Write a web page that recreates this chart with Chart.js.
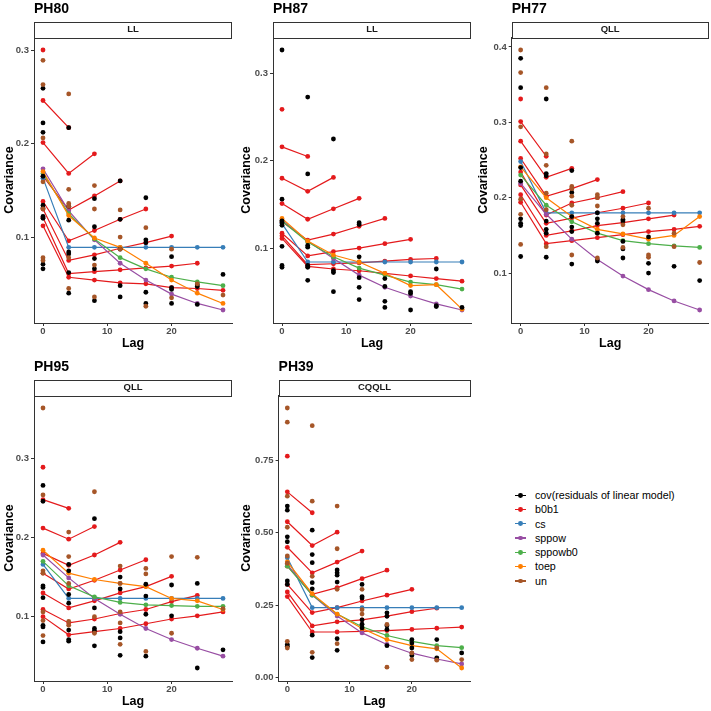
<!DOCTYPE html>
<html>
<head>
<meta charset="utf-8">
<script src="https://cdn.jsdelivr.net/npm/chart.js@4.4.0/dist/chart.umd.min.js"></script>
<style>
 body{margin:0;background:#fff;width:711px;height:711px;position:relative;overflow:hidden;font-family:"Liberation Sans",Arial,sans-serif}
 .panel{position:absolute;width:237px;height:353px}
 #leyenda{position:absolute;left:513px;top:488px;font-size:10.7px;color:#000}
 .item{height:14.3px;line-height:14.3px;position:relative;padding-left:22px;white-space:nowrap}
 .item .ln{position:absolute;left:2px;top:6.6px;width:11px;height:1.3px}
 .item .pt{position:absolute;left:5.1px;top:4.8px;width:4.8px;height:4.8px;border-radius:50%}
</style>
</head>
<body>
<div class="panel" style="left:0;top:0"><canvas id="c0" width="237" height="353"></canvas></div>
<div class="panel" style="left:237px;top:0"><canvas id="c1" width="237" height="353"></canvas></div>
<div class="panel" style="left:474px;top:0"><canvas id="c2" width="237" height="353"></canvas></div>
<div class="panel" style="left:0;top:358px"><canvas id="c3" width="237" height="353"></canvas></div>
<div class="panel" style="left:237px;top:358px"><canvas id="c4" width="237" height="353"></canvas></div>
<div id="leyenda"></div>
<script>
// lags (x) shared by all panels
var lags = [0, 4, 8, 12, 16, 20, 24, 28];

var panelNames = ["PH80", "PH87", "PH77", "PH95", "PH39"];
var stripLabels = ["LL", "LL", "QLL", "QLL", "CQQLL"];

var modelNames = ["cov(residuals of linear model)", "b0b1", "cs", "sppow", "sppowb0", "toep", "un"];
var modelColors = ["#000000", "#E41A1C", "#377EB8", "#984EA3", "#4DAF4A", "#FF7F00", "#A65628"];

// ---- PH80 ----
var residPH80 = [
  [0.259, 0.222, 0.212, 0.165, 0.134, 0.131, 0.122, 0.120, 0.071, 0.066],
  [0.217, 0.133, 0.118, 0.084, 0.082, 0.062, 0.040],
  [0.141, 0.111, 0.077, 0.066, 0.032],
  [0.160, 0.119, 0.087, 0.048, 0.036],
  [0.142, 0.097, 0.094, 0.041, 0.029],
  [0.079, 0.046, 0.044, 0.029],
  [0.049, 0.047, 0.028],
  [0.060]
];
var unPH80 = [
  [0.289, 0.263, 0.206, 0.159, 0.130, 0.078, 0.075],
  [0.253, 0.151, 0.136, 0.133, 0.078, 0.045],
  [0.155, 0.130, 0.070, 0.036],
  [0.129, 0.100, 0.087],
  [0.110, 0.026],
  [0.087, 0.035],
  [0.050],
  [0.038]
];
var b0b1PH80 = [
  [0.300],
  [0.246, 0.217],
  [0.201, 0.168, 0.189],
  [0.165, 0.129, 0.144, 0.160],
  [0.138, 0.096, 0.107, 0.119, 0.130],
  [0.130, 0.075, 0.081, 0.088, 0.094, 0.101],
  [0.121, 0.061, 0.063, 0.065, 0.067, 0.069, 0.072],
  [0.112, 0.057, 0.054, 0.051, 0.050, 0.046, 0.045, 0.043]
];
var csPH80 = [0.163, 0.089, 0.089, 0.089, 0.089, 0.089, 0.089, 0.089];
var sppowPH80 = [0.173, 0.128, 0.097, 0.072, 0.054, 0.039, 0.029, 0.022];
var sppowb0PH80 = [0.168, 0.125, 0.098, 0.078, 0.066, 0.057, 0.052, 0.048];
var toepPH80 = [0.170, 0.123, 0.099, 0.089, 0.072, 0.054, 0.040, 0.029];

// ---- PH87 ----
var residPH87 = [
  [0.327, 0.156, 0.131, 0.129, 0.126, 0.102, 0.080, 0.078],
  [0.273, 0.185, 0.103, 0.101, 0.080, 0.078, 0.063],
  [0.225, 0.074, 0.072, 0.050],
  [0.129, 0.127, 0.090, 0.066, 0.055, 0.041],
  [0.065, 0.056, 0.039, 0.032],
  [0.050, 0.048, 0.029],
  [0.076, 0.034, 0.033],
  [0.032]
];
var unPH87 = [[], [], [], [], [], [], [], []];
var b0b1PH87 = [
  [0.259],
  [0.216, 0.205],
  [0.180, 0.165, 0.181],
  [0.151, 0.133, 0.145, 0.157],
  [0.130, 0.109, 0.116, 0.125, 0.134],
  [0.117, 0.091, 0.096, 0.100, 0.105, 0.110],
  [0.114, 0.081, 0.082, 0.083, 0.085, 0.087, 0.088],
  [0.111, 0.079, 0.076, 0.074, 0.071, 0.068, 0.065, 0.062]
];
var csPH87 = [0.128, 0.084, 0.084, 0.084, 0.084, 0.084, 0.084, 0.084];
var sppowPH87 = [0.132, 0.108, 0.088, 0.069, 0.055, 0.045, 0.036, 0.029];
var sppowb0PH87 = [0.131, 0.107, 0.090, 0.077, 0.069, 0.061, 0.058, 0.053];
var toepPH87 = [0.134, 0.108, 0.092, 0.084, 0.071, 0.057, 0.058, 0.030];

// ---- PH77 ----
var residPH77 = [
  [0.385, 0.346, 0.240, 0.222, 0.172, 0.166, 0.163, 0.122],
  [0.331, 0.232, 0.229, 0.169, 0.158, 0.153, 0.121],
  [0.236, 0.207, 0.175, 0.161, 0.155, 0.112],
  [0.180, 0.172, 0.166, 0.153, 0.116],
  [0.171, 0.169, 0.142, 0.132, 0.120],
  [0.148, 0.113, 0.100],
  [0.109],
  [0.090]
];
var unPH77 = [
  [0.396, 0.366, 0.294, 0.198, 0.178, 0.138],
  [0.346, 0.258, 0.243, 0.206, 0.184, 0.135],
  [0.275, 0.215, 0.212, 0.202, 0.190, 0.124],
  [0.204, 0.200, 0.189, 0.120],
  [0.175, 0.164, 0.134],
  [0.186, 0.124, 0.121],
  [0.153, 0.135],
  [0.114]
];
var b0b1PH77 = [
  [0.331],
  [0.301, 0.255],
  [0.275, 0.227, 0.239],
  [0.252, 0.202, 0.212, 0.224],
  [0.234, 0.177, 0.193, 0.200, 0.208],
  [0.217, 0.166, 0.173, 0.180, 0.186, 0.193],
  [0.204, 0.150, 0.156, 0.163, 0.167, 0.172, 0.177],
  [0.194, 0.139, 0.143, 0.147, 0.151, 0.155, 0.158, 0.162]
];
var csPH77 = [0.248, 0.180, 0.180, 0.180, 0.180, 0.180, 0.180, 0.180];
var sppowPH77 = [0.219, 0.178, 0.145, 0.118, 0.096, 0.078, 0.063, 0.051];
var sppowb0PH77 = [0.230, 0.190, 0.168, 0.153, 0.143, 0.139, 0.136, 0.134];
var toepPH77 = [0.241, 0.200, 0.175, 0.158, 0.152, 0.145, 0.150, 0.175];

// ---- PH95 ----
var residPH95 = [
  [0.266, 0.246, 0.139, 0.137, 0.124, 0.089, 0.087, 0.068],
  [0.166, 0.158, 0.128, 0.117, 0.083, 0.071, 0.069],
  [0.224, 0.111, 0.085, 0.082, 0.063],
  [0.150, 0.135, 0.081, 0.073, 0.051],
  [0.141, 0.126, 0.103, 0.050],
  [0.140, 0.101],
  [0.142, 0.035],
  [0.058]
];
var unPH95 = [
  [0.364, 0.254, 0.158, 0.155, 0.106, 0.095, 0.076],
  [0.207, 0.176, 0.142, 0.094, 0.089],
  [0.258, 0.100, 0.079],
  [0.164, 0.142, 0.106, 0.092, 0.065],
  [0.161, 0.154, 0.056],
  [0.176, 0.079],
  [0.175],
  [0.110]
];
var b0b1PH95 = [
  [0.289],
  [0.248, 0.237],
  [0.212, 0.198, 0.214],
  [0.180, 0.165, 0.178, 0.194],
  [0.155, 0.135, 0.146, 0.159, 0.172],
  [0.130, 0.111, 0.120, 0.130, 0.138, 0.151],
  [0.109, 0.092, 0.097, 0.104, 0.109, 0.119, 0.127],
  [0.100, 0.077, 0.081, 0.085, 0.091, 0.097, 0.101, 0.106]
];
var csPH95 = [0.166, 0.123, 0.123, 0.123, 0.123, 0.123, 0.123, 0.123];
var sppowPH95 = [0.178, 0.149, 0.123, 0.103, 0.085, 0.071, 0.060, 0.050];
var sppowb0PH95 = [0.170, 0.139, 0.125, 0.118, 0.115, 0.114, 0.113, 0.113];
var toepPH95 = [0.184, 0.155, 0.147, 0.142, 0.138, 0.123, 0.120, 0.109];

// ---- PH39 ----
var residPH39 = [
  [0.592, 0.578, 0.486, 0.469, 0.334, 0.322, 0.115, 0.109],
  [0.509, 0.425, 0.397, 0.328, 0.307, 0.147, 0.070],
  [0.372, 0.362, 0.354, 0.330, 0.135, 0.095],
  [0.322, 0.280, 0.275, 0.200, 0.185, 0.172],
  [0.224, 0.212, 0.180, 0.167, 0.111],
  [0.132, 0.120, 0.103, 0.077],
  [0.132, 0.069],
  [0.086]
];
var unPH39 = [
  [0.930, 0.881, 0.626, 0.519, 0.420, 0.395, 0.126, 0.103],
  [0.869, 0.609, 0.350, 0.088],
  [0.592, 0.445, 0.305, 0.118],
  [0.305, 0.235, 0.220],
  [0.184, 0.037],
  [0.086, 0.063],
  [0.103, 0.061],
  [0.063]
];
var b0b1PH39 = [
  [0.764],
  [0.641, 0.569],
  [0.538, 0.456, 0.502],
  [0.450, 0.362, 0.399, 0.437],
  [0.385, 0.288, 0.311, 0.342, 0.371],
  [0.322, 0.225, 0.242, 0.265, 0.285, 0.305],
  [0.296, 0.179, 0.193, 0.200, 0.213, 0.228, 0.240],
  [0.280, 0.158, 0.158, 0.160, 0.163, 0.167, 0.171, 0.175]
];
var csPH39 = [0.414, 0.242, 0.242, 0.242, 0.242, 0.242, 0.242, 0.242];
var sppowPH39 = [0.390, 0.285, 0.213, 0.155, 0.115, 0.085, 0.065, 0.048];
var sppowb0PH39 = [0.385, 0.285, 0.220, 0.176, 0.146, 0.126, 0.111, 0.104];
var toepPH39 = [0.400, 0.290, 0.220, 0.170, 0.132, 0.111, 0.100, 0.034];

var panelData = [
  [residPH80, unPH80, b0b1PH80, csPH80, sppowPH80, sppowb0PH80, toepPH80],
  [residPH87, unPH87, b0b1PH87, csPH87, sppowPH87, sppowb0PH87, toepPH87],
  [residPH77, unPH77, b0b1PH77, csPH77, sppowPH77, sppowb0PH77, toepPH77],
  [residPH95, unPH95, b0b1PH95, csPH95, sppowPH95, sppowb0PH95, toepPH95],
  [residPH39, unPH39, b0b1PH39, csPH39, sppowPH39, sppowb0PH39, toepPH39]
];

// layout per panel: y axis width, right padding, tick step, decimals
var yAxisWidth = [34, 36, 37.7, 34, 41.6];
var padRight = [5, 3, 1.4, 5, 3.6];
var yStep = [0.1, 0.1, 0.1, 0.1, 0.25];
var yDec = [1, 1, 1, 1, 2];

// strip box above the panel
var stripPlugin = {
  id: "strip",
  afterDraw: function (chart, args, opts) {
    var a = chart.chartArea, ctx = chart.ctx, h = 15.5;
    ctx.save();
    ctx.fillStyle = "#ffffff";
    ctx.fillRect(a.left, a.top - h, a.right - a.left, h);
    ctx.strokeStyle = "#333333";
    ctx.lineWidth = 1;
    ctx.strokeRect(Math.round(a.left) + 0.5, Math.round(a.top - h) + 0.5, Math.round(a.right - a.left) - 1, Math.round(h));
    ctx.fillStyle = "#1a1a1a";
    ctx.font = "bold 9.5px 'Liberation Sans', Arial, sans-serif";
    ctx.textAlign = "center";
    ctx.textBaseline = "middle";
    ctx.fillText(opts.text, (a.left + a.right) / 2, a.top - h / 2 + 0.5);
    ctx.restore();
  }
};

function puntos(arr) {
  var out = [];
  arr.forEach(function (vals, i) {
    vals.forEach(function (v) { out.push({ x: lags[i], y: v }); });
  });
  return out;
}

function linea(vals) {
  return vals.map(function (v, i) { return { x: lags[i], y: v }; });
}

// b0b1: one line per starting time, joined with null breaks
function lineasCortadas(lines) {
  var out = [];
  lines.forEach(function (l) {
    l.forEach(function (v, i) { out.push({ x: lags[i], y: v }); });
    out.push({ x: lags[l.length - 1], y: null });
  });
  return out;
}

function rangoY(d) {
  var todos = [];
  d[0].forEach(function (a) { todos = todos.concat(a); });
  d[1].forEach(function (a) { todos = todos.concat(a); });
  d[2].forEach(function (a) { todos = todos.concat(a); });
  todos = todos.concat(d[3], d[4], d[5], d[6]);
  var mn = Math.min.apply(null, todos), mx = Math.max.apply(null, todos);
  var ex = (mx - mn) * 0.05;
  return [mn - ex, mx + ex];
}

function dataset(label, data, color, order, line) {
  return {
    label: label,
    data: data,
    showLine: line,
    borderColor: color,
    backgroundColor: color,
    pointBackgroundColor: color,
    pointBorderWidth: 0,
    pointRadius: 2.4,
    pointHoverRadius: 2.4,
    borderWidth: 1.2,
    spanGaps: false,
    order: order
  };
}

for (let p = 0; p < 5; p++) {
  var d = panelData[p];
  var rango = rangoY(d);
  var ds = [
    dataset(modelNames[6], puntos(d[1]), modelColors[6], 0, false),
    dataset(modelNames[0], puntos(d[0]), modelColors[0], 1, false),
    dataset(modelNames[5], linea(d[6]), modelColors[5], 2, true),
    dataset(modelNames[4], linea(d[5]), modelColors[4], 3, true),
    dataset(modelNames[3], linea(d[4]), modelColors[3], 4, true),
    dataset(modelNames[2], linea(d[3]), modelColors[2], 5, true),
    dataset(modelNames[1], lineasCortadas(d[2]), modelColors[1], 6, true)
  ];
  let yw = yAxisWidth[p];
  let dec = yDec[p];
  new Chart(document.getElementById("c" + p), {
    type: "scatter",
    data: { datasets: ds },
    plugins: [stripPlugin],
    options: {
      responsive: false,
      animation: false,
      events: [],
      layout: { padding: { left: 0, right: padRight[p], top: 0, bottom: 0 } },
      plugins: {
        legend: { display: false },
        tooltip: { enabled: false },
        title: {
          display: true, text: panelNames[p], align: "start", fullSize: false,
          color: "#000", font: { size: 14, weight: "bold", family: "'Liberation Sans', Arial, sans-serif" },
          padding: { top: 0.3, bottom: 19.9 }
        },
        strip: { text: stripLabels[p] }
      },
      scales: {
        x: {
          type: "linear", min: -1.4, max: 29.4,
          afterFit: function (s) { s.height = 30; },
          ticks: { stepSize: 10, includeBounds: false, maxRotation: 0, padding: 0, color: "#4d4d4d",
                   font: { size: 9.5, weight: "bold", family: "'Liberation Sans', Arial, sans-serif" } },
          grid: { drawOnChartArea: false, drawTicks: true, tickLength: 3, color: "#333" },
          border: { display: true, color: "#333", width: 1 },
          title: { display: true, text: "Lag", color: "#000", padding: { top: 0, bottom: 1.5 },
                   font: { size: 12.5, weight: "bold", family: "'Liberation Sans', Arial, sans-serif" } }
        },
        y: {
          type: "linear", min: rango[0], max: rango[1],
          afterFit: function (s) { s.width = yw; },
          ticks: { stepSize: yStep[p], includeBounds: false, padding: 2, color: "#4d4d4d",
                   font: { size: 9.5, weight: "bold", family: "'Liberation Sans', Arial, sans-serif" },
                   callback: function (v) { return Number(v).toFixed(dec); } },
          grid: { drawOnChartArea: false, drawTicks: true, tickLength: 3, color: "#333" },
          border: { display: true, color: "#333", width: 1 },
          title: { display: true, text: "Covariance", color: "#000", padding: { top: 2, bottom: 0 },
                   font: { size: 12.5, weight: "bold", family: "'Liberation Sans', Arial, sans-serif" } }
        }
      }
    }
  });
}

// shared legend
var htmlLeyenda = "";
for (let i = 0; i < modelNames.length; i++) {
  htmlLeyenda += '<div class="item"><span class="ln" style="background:' + modelColors[i] + '"></span>' +
    '<span class="pt" style="background:' + modelColors[i] + '"></span>' + modelNames[i] + '</div>';
}
document.getElementById("leyenda").innerHTML = htmlLeyenda;
</script>
</body>
</html>
